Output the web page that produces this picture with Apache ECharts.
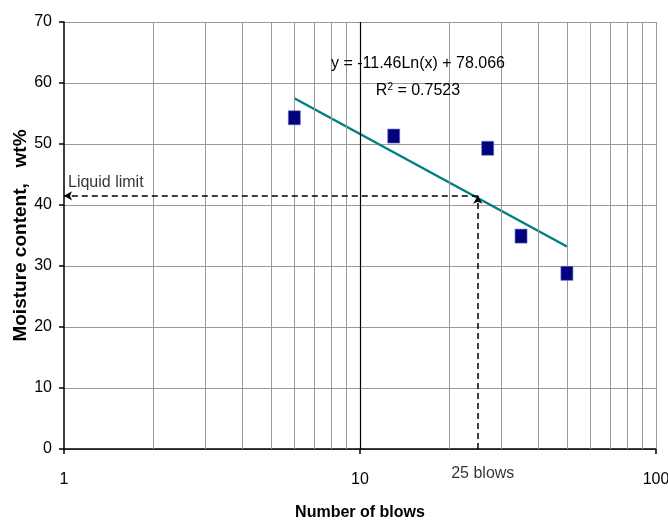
<!DOCTYPE html>
<html>
<head>
<meta charset="utf-8">
<script src="https://cdn.jsdelivr.net/npm/echarts@6/dist/echarts.min.js"></script>
<style>html,body{margin:0;padding:0;background:#fff;}#c{width:668px;height:521px;}</style>
</head>
<body>
<div id="c"></div>
<script>
// ---- data ----
const blows = [6, 13, 27, 35, 50];
const moisture = [54.3, 51.3, 49.3, 34.9, 28.8];
const trendBlows = [6, 50];
const trendMoisture = [57.5, 33.2];
const liquidLimit = 41.5;
const standardBlows = 25;
const xMin = 1, xMax = 100;
const yTicks = [0, 10, 20, 30, 40, 50, 60, 70];
const minorGridX = [2, 3, 4, 5, 6, 7, 8, 9, 20, 30, 40, 50, 60, 70, 80, 90, 100];
const majorGridX = [10];
const equationText = 'y = -11.46Ln(x) + 78.066';
const r2Text = '0.7523';

const FONT = '"Liberation Sans", Arial, sans-serif';

const chart = echarts.init(document.getElementById('c'), null, {renderer: 'canvas'});

const points = blows.map((b, i) => [b, moisture[i]]);
const trend = trendBlows.map((b, i) => [b, trendMoisture[i]]);

chart.setOption({
  animation: false,
  backgroundColor: '#fff',
  textStyle: {fontFamily: FONT},
  grid: {left: 64, right: 12, top: 22, bottom: 72, containLabel: false, outerBoundsMode: 'none'},
  xAxis: {
    type: 'log', logBase: 10, min: xMin, max: xMax,
    axisLine: {onZero: false, lineStyle: {color: '#000', width: 1.5}},
    axisTick: {show: true, length: 5, inside: false, lineStyle: {color: '#000', width: 1.5}},
    axisLabel: {fontSize: 16, color: '#000', margin: 23, fontFamily: FONT},
    splitLine: {show: false},
    name: 'Number of blows', nameLocation: 'middle', nameGap: 56, nameMoveOverlap: false,
    nameTextStyle: {fontSize: 16, fontWeight: 'bold', color: '#000', fontFamily: FONT}
  },
  yAxis: {
    type: 'value', min: yTicks[0], max: yTicks[yTicks.length - 1], interval: 10,
    axisLine: {show: true, lineStyle: {color: '#000', width: 1.5}},
    axisTick: {show: true, length: 5, lineStyle: {color: '#000', width: 1.5}},
    axisLabel: {fontSize: 16, color: '#000', margin: 12, fontFamily: FONT},
    splitLine: {show: true, lineStyle: {color: '#999', width: 1}},
    name: 'Moisture content,   wt%', nameLocation: 'middle', nameGap: 34, nameMoveOverlap: false,
    nameTextStyle: {fontSize: 19, fontWeight: 'bold', color: '#000', fontFamily: FONT}
  },
  series: [
    {
      name: 'grid', type: 'line', data: [], silent: true, z: 1,
      markLine: {
        silent: true, symbol: ['none', 'none'], animation: false,
        label: {show: false},
        emphasis: {disabled: true},
        data: minorGridX.map(v => ({xAxis: v, lineStyle: {color: '#999', width: 1, type: 'solid'}}))
          .concat(majorGridX.map(v => ({xAxis: v, lineStyle: {color: '#000', width: 1.2, type: 'solid'}})))
      }
    },
    {
      name: 'guides', type: 'line', data: [], silent: true, z: 3,
      markLine: {
        silent: true, animation: false,
        symbol: ['none', 'arrow'], symbolSize: [7, 8],
        label: {show: false},
        emphasis: {disabled: true},
        lineStyle: {color: '#000', width: 1.5, type: [6, 4]},
        data: [
          [{coord: [standardBlows, liquidLimit]}, {coord: [xMin, liquidLimit]}],
          [{coord: [standardBlows, 0]}, {coord: [standardBlows, liquidLimit]}]
        ]
      }
    },
    {
      name: 'trend', type: 'line', data: trend, symbol: 'none', z: 4,
      lineStyle: {color: '#008080', width: 2.5}, silent: true
    },
    {
      name: 'data', type: 'scatter', data: points, z: 5,
      symbol: 'rect', symbolSize: [12, 14],
      itemStyle: {color: '#000080', borderColor: '#6070b0', borderWidth: 0.6, opacity: 1}
    },
    {
      name: 'annotations', type: 'scatter', z: 6, silent: true, clip: false,
      symbolSize: 0,
      data: [
        {value: [standardBlows, 0], label: {show: true, formatter: '25 blows', position: 'bottom', distance: 17, offset: [5, 0]}},
        {value: [xMin, liquidLimit], label: {show: true, formatter: 'Liquid limit', position: 'right', distance: 4, offset: [0, -13]}}
      ],
      label: {fontSize: 16, color: '#000', fontFamily: FONT}
    }
  ],
  graphic: [
    {
      type: 'text', x: 418, y: 64, z: 10,
      style: {text: equationText, font: '16px ' + FONT, fill: '#000', align: 'center', verticalAlign: 'middle'}
    },
    {
      type: 'text', x: 418, y: 91, z: 10,
      style: {
        text: '{a|R}{s|2}{a| = ' + r2Text + '}',
        align: 'center', verticalAlign: 'middle',
        rich: {
          a: {fontSize: 16, fontFamily: FONT, fill: '#000', color: '#000'},
          s: {fontSize: 10, fontFamily: FONT, fill: '#000', color: '#000', verticalAlign: 'top', padding: [0, 0, 8, 0]}
        }
      }
    }
  ]
});
</script>
</body>
</html>
